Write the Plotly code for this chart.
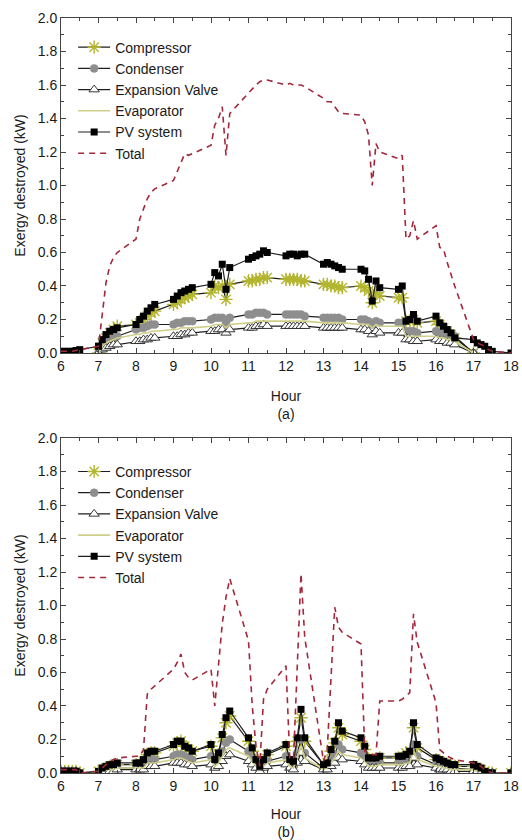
import plotly.graph_objects as go
from plotly.subplots import make_subplots

N = None

# ---------------- shared time stamps (hour of day) ----------------
hours = [
    6.0, 6.1, 6.2, 6.3, 6.4, 6.5,
    7.0, 7.1, 7.2, 7.3, 7.4, 7.5,
    8.0, 8.1, 8.2, 8.3, 8.4, 8.5,
    9.0, 9.1, 9.2, 9.3, 9.4, 9.5,
    10.0, 10.1, 10.2, 10.3, 10.4, 10.5,
    11.0, 11.1, 11.2, 11.3, 11.4, 11.5,
    12.0, 12.1, 12.2, 12.3, 12.4, 12.5,
    13.0, 13.1, 13.2, 13.3, 13.4, 13.5,
    14.0, 14.1, 14.2, 14.3, 14.4, 14.5,
    15.0, 15.1, 15.2, 15.3, 15.4, 15.5,
    16.0, 16.1, 16.2, 16.3, 16.4, 16.5,
    17.0, 17.1, 17.2, 17.3, 17.4, 17.5,
    18.0,
]

# ---------------- panel (a) ----------------
compressor_a = [
    N, N, N, N, N, N,
    0.00, 0.06, 0.09, 0.12, 0.14, 0.16,
    0.17, 0.18, 0.20, 0.22, 0.24, 0.25,
    0.29, 0.30, 0.32, 0.33, 0.34, 0.35,
    0.36, 0.40, 0.39, 0.40, 0.32, 0.41,
    0.43, 0.43, 0.44, 0.44, 0.45, 0.45,
    0.44, 0.44, 0.44, 0.44, 0.43, 0.43,
    0.41, 0.41, 0.40, 0.40, 0.39, 0.39,
    0.40, 0.39, 0.37, 0.30, 0.36, 0.34,
    0.33, 0.33, 0.19, 0.19, 0.20, 0.18,
    0.19, 0.17, 0.15, 0.13, 0.11, 0.09,
    0.00, N, N, N, N, N,
    N,
]
condenser_a = [
    N, N, N, N, N, N,
    0.00, 0.05, 0.07, 0.08, 0.09, 0.10,
    0.14, 0.15, 0.15, 0.16, 0.17, 0.17,
    0.17, 0.18, 0.18, 0.19, 0.19, 0.19,
    0.20, 0.21, 0.21, 0.21, 0.18, 0.21,
    0.23, 0.23, 0.24, 0.24, 0.24, 0.23,
    0.23, 0.23, 0.23, 0.23, 0.23, 0.22,
    0.21, 0.21, 0.21, 0.21, 0.21, 0.20,
    0.20, 0.20, 0.19, 0.17, 0.19, 0.18,
    0.18, 0.18, 0.13, 0.13, 0.13, 0.12,
    0.13, 0.12, 0.12, 0.11, 0.11, 0.10,
    0.00, N, N, N, N, N,
    N,
]
valve_a = [
    N, N, N, N, N, N,
    0.00, 0.02, 0.03, 0.04, 0.05, 0.05,
    0.07, 0.07, 0.08, 0.08, 0.09, 0.09,
    0.10, 0.10, 0.11, 0.11, 0.12, 0.12,
    0.13, 0.13, 0.14, 0.14, 0.12, 0.14,
    0.15, 0.15, 0.16, 0.16, 0.17, 0.16,
    0.16, 0.16, 0.16, 0.16, 0.16, 0.16,
    0.15, 0.15, 0.15, 0.15, 0.15, 0.15,
    0.14, 0.14, 0.13, 0.11, 0.13, 0.12,
    0.12, 0.12, 0.08, 0.08, 0.07, 0.07,
    0.08, 0.07, 0.07, 0.06, 0.06, 0.05,
    0.00, N, N, N, N, N,
    N,
]
evaporator_a = [
    N, N, N, N, N, N,
    0.00, 0.04, 0.06, 0.07, 0.08, 0.09,
    0.11, 0.11, 0.12, 0.12, 0.13, 0.13,
    0.14, 0.14, 0.15, 0.15, 0.15, 0.15,
    0.16, 0.17, 0.17, 0.17, 0.15, 0.17,
    0.18, 0.18, 0.19, 0.19, 0.19, 0.19,
    0.19, 0.19, 0.19, 0.19, 0.19, 0.19,
    0.18, 0.18, 0.18, 0.18, 0.18, 0.18,
    0.17, 0.17, 0.17, 0.15, 0.17, 0.16,
    0.16, 0.16, 0.10, 0.10, 0.10, 0.10,
    0.10, 0.09, 0.09, 0.08, 0.08, 0.07,
    0.00, N, N, N, N, N,
    N,
]
pv_a = [
    0.01, 0.01, 0.01, 0.01, 0.015, 0.02,
    0.04, 0.08, 0.11, 0.13, 0.14, 0.15,
    0.17, 0.20, 0.22, 0.25, 0.27, 0.29,
    0.32, 0.34, 0.36, 0.37, 0.38, 0.39,
    0.41, 0.48, 0.46, 0.53, 0.38, 0.51,
    0.56, 0.57, 0.58, 0.59, 0.61, 0.60,
    0.58, 0.59, 0.59, 0.58, 0.59, 0.59,
    0.53, 0.54, 0.53, 0.52, 0.51, 0.50,
    0.50, 0.49, 0.44, 0.31, 0.43, 0.39,
    0.38, 0.40, 0.19, 0.20, 0.23, 0.19,
    0.22, 0.18, 0.16, 0.14, 0.12, 0.09,
    0.08, 0.06, 0.05, 0.04, 0.02, 0.01,
    0.00,
]
total_a = [
    0.01, 0.01, 0.01, 0.01, 0.015, 0.02,
    0.04, 0.25, 0.42, 0.52, 0.57, 0.60,
    0.68, 0.80, 0.86, 0.92, 0.96, 0.98,
    1.03, 1.08, 1.14, 1.19, 1.18, 1.19,
    1.24, 1.36, 1.40, 1.47, 1.18, 1.43,
    1.55, 1.58, 1.60, 1.62, 1.63, 1.63,
    1.60, 1.61, 1.60, 1.60, 1.60, 1.59,
    1.52, 1.50, 1.50, 1.47, 1.44, 1.43,
    1.42, 1.38, 1.30, 1.00, 1.25, 1.20,
    1.16, 1.18, 0.68, 0.70, 0.79, 0.68,
    0.76, 0.63, 0.62, 0.54, 0.47, 0.40,
    0.08, 0.06, 0.05, 0.04, 0.02, 0.01,
    0.00,
]

# ---------------- panel (b) ----------------
compressor_b = [
    0.01, 0.01, 0.01, 0.01, 0.01, 0.00,
    0.01, 0.02, 0.03, 0.04, 0.04, 0.05,
    0.05, 0.05, 0.07, 0.11, 0.12, 0.12,
    0.16, 0.18, 0.19, 0.16, 0.14, 0.13,
    0.16, 0.08, 0.11, 0.21, 0.30, 0.34,
    0.19, 0.13, 0.07, 0.04, 0.07, 0.11,
    0.16, 0.07, 0.06, 0.19, 0.33, 0.19,
    0.05, 0.06, 0.13, 0.18, 0.27, 0.23,
    0.19, 0.14, 0.08, 0.08, 0.08, 0.09,
    0.09, 0.09, 0.12, 0.13, 0.27, 0.15,
    0.08, 0.07, 0.06, 0.05, 0.05, 0.04,
    0.04, 0.03, 0.02, 0.01, 0.00, 0.00,
    0.00,
]
condenser_b = [
    0.01, 0.01, 0.01, 0.01, 0.01, 0.00,
    0.00, 0.01, 0.02, 0.02, 0.03, 0.03,
    0.03, 0.03, 0.04, 0.07, 0.08, 0.08,
    0.10, 0.11, 0.11, 0.10, 0.09, 0.08,
    0.10, 0.05, 0.07, 0.13, 0.18, 0.20,
    0.13, 0.09, 0.05, 0.02, 0.05, 0.07,
    0.10, 0.05, 0.04, 0.12, 0.20, 0.12,
    0.03, 0.04, 0.08, 0.11, 0.17, 0.14,
    0.12, 0.09, 0.05, 0.05, 0.05, 0.06,
    0.06, 0.06, 0.07, 0.08, 0.17, 0.10,
    0.05, 0.04, 0.04, 0.03, 0.03, 0.03,
    0.02, 0.02, 0.01, 0.00, 0.00, 0.00,
    0.00,
]
valve_b = [
    0.01, 0.01, 0.01, 0.01, 0.01, 0.00,
    0.00, 0.01, 0.01, 0.01, 0.01, 0.02,
    0.02, 0.02, 0.02, 0.04, 0.04, 0.04,
    0.06, 0.06, 0.06, 0.05, 0.05, 0.04,
    0.05, 0.03, 0.04, 0.07, 0.10, 0.11,
    0.07, 0.05, 0.03, 0.01, 0.03, 0.04,
    0.05, 0.03, 0.02, 0.06, 0.12, 0.07,
    0.02, 0.02, 0.04, 0.06, 0.09, 0.08,
    0.07, 0.05, 0.03, 0.03, 0.03, 0.03,
    0.03, 0.03, 0.04, 0.04, 0.09, 0.05,
    0.03, 0.02, 0.02, 0.02, 0.01, 0.01,
    0.01, 0.01, 0.00, 0.00, 0.00, 0.00,
    0.00,
]
evaporator_b = [
    0.01, 0.01, 0.01, 0.01, 0.01, 0.00,
    0.00, 0.01, 0.02, 0.02, 0.02, 0.03,
    0.03, 0.03, 0.03, 0.06, 0.06, 0.06,
    0.08, 0.09, 0.09, 0.08, 0.07, 0.06,
    0.08, 0.04, 0.06, 0.10, 0.14, 0.15,
    0.10, 0.07, 0.04, 0.02, 0.04, 0.06,
    0.08, 0.04, 0.03, 0.09, 0.16, 0.09,
    0.02, 0.03, 0.06, 0.09, 0.13, 0.11,
    0.09, 0.07, 0.04, 0.04, 0.04, 0.05,
    0.05, 0.05, 0.06, 0.06, 0.13, 0.08,
    0.04, 0.04, 0.03, 0.03, 0.02, 0.02,
    0.02, 0.01, 0.01, 0.00, 0.00, 0.00,
    0.00,
]
pv_b = [
    0.01, 0.01, 0.01, 0.01, 0.01, 0.00,
    0.01, 0.03, 0.04, 0.05, 0.05, 0.06,
    0.06, 0.06, 0.08, 0.12, 0.13, 0.13,
    0.17, 0.19, 0.19, 0.16, 0.15, 0.13,
    0.17, 0.08, 0.12, 0.23, 0.33, 0.37,
    0.21, 0.15, 0.08, 0.04, 0.08, 0.12,
    0.17, 0.08, 0.07, 0.21, 0.38, 0.21,
    0.05, 0.06, 0.14, 0.19, 0.30, 0.25,
    0.21, 0.16, 0.09, 0.09, 0.09, 0.10,
    0.10, 0.10, 0.11, 0.13, 0.30, 0.17,
    0.09, 0.08, 0.07, 0.06, 0.05, 0.05,
    0.05, 0.04, 0.03, 0.01, 0.00, 0.00,
    0.00,
]
total_b = [
    0.02, 0.02, 0.02, 0.02, 0.02, 0.00,
    0.01, 0.03, 0.05, 0.07, 0.08, 0.09,
    0.10, 0.10, 0.14, 0.47, 0.50, 0.52,
    0.62, 0.66, 0.71, 0.60, 0.57, 0.555,
    0.62, 0.40, 0.65, 0.89, 1.05, 1.16,
    0.79, 0.40, 0.16, 0.04, 0.44, 0.50,
    0.64, 0.09, 0.08, 0.69, 1.19, 0.81,
    0.07, 0.14, 0.60, 0.99, 0.87, 0.84,
    0.77, 0.13, 0.12, 0.11, 0.11, 0.43,
    0.43, 0.44, 0.46, 0.48, 0.95, 0.78,
    0.42, 0.14, 0.12, 0.10, 0.09, 0.08,
    0.06, 0.05, 0.04, 0.02, 0.01, 0.00,
    0.00,
]

series_names = ["Compressor", "Condenser", "Expansion Valve", "Evaporator", "PV system", "Total"]
panel_a = [compressor_a, condenser_a, valve_a, evaporator_a, pv_a, total_a]
panel_b = [compressor_b, condenser_b, valve_b, evaporator_b, pv_b, total_b]
panel_labels = ["(a)", "(b)"]
x_ticks = [6, 7, 8, 9, 10, 11, 12, 13, 14, 15, 16, 17, 18]
y_ticks = [0.0, 0.2, 0.4, 0.6, 0.8, 1.0, 1.2, 1.4, 1.6, 1.8, 2.0]

# ---------------- styles ----------------
LINE_BLACK = "#1e1e1e"
styles = [
    dict(mode="lines+markers", line=dict(color=LINE_BLACK, width=1.2),
         marker=dict(symbol="asterisk-open", size=11, color="#b3b52e",
                     line=dict(color="#b3b52e", width=1.4))),
    dict(mode="lines+markers", line=dict(color=LINE_BLACK, width=1.2),
         marker=dict(symbol="circle", size=8, color="#8e8e8e",
                     line=dict(color="#8e8e8e", width=0.5))),
    dict(mode="lines+markers", line=dict(color=LINE_BLACK, width=1.2),
         marker=dict(symbol="triangle-up", size=9, color="white",
                     line=dict(color="#222222", width=0.9))),
    dict(mode="lines", line=dict(color="#cfcf8a", width=1.6)),
    dict(mode="lines+markers", line=dict(color=LINE_BLACK, width=1.2),
         marker=dict(symbol="square", size=7, color="#000000",
                     line=dict(color="#000000", width=0))),
    dict(mode="lines", line=dict(color="#a3283c", width=1.6, dash="6px,5px")),
]

FONT = "Liberation Sans, Arial, sans-serif"
TXT = "#1a1a1a"

fig = make_subplots(rows=2, cols=1, vertical_spacing=0.1126)

for row, (data, leg) in enumerate([(panel_a, "legend"), (panel_b, "legend2")], start=1):
    for name, vals, st in zip(series_names, data, styles):
        fig.add_trace(
            go.Scatter(x=hours, y=vals, name=name, legend=leg,
                       connectgaps=False, **st),
            row=row, col=1,
        )

axis_common = dict(
    showline=True, linecolor="#444444", linewidth=1, mirror="ticks",
    ticks="inside", ticklen=5, tickwidth=1, tickcolor="#444444",
    showgrid=False, zeroline=False, automargin=False,
    tickfont=dict(family=FONT, size=14, color=TXT),
)
for row in (1, 2):
    fig.update_xaxes(
        range=[6, 18], tickvals=x_ticks,
        minor=dict(ticks="inside", ticklen=3, dtick=0.5, tick0=6, tickcolor="#444444"),
        title=dict(text="Hour<br>" + panel_labels[row - 1], standoff=18,
                   font=dict(family=FONT, size=14, color=TXT)),
        row=row, col=1, **axis_common,
    )
    fig.update_yaxes(
        range=[0, 2.0], tickvals=y_ticks, tickformat=".1f",
        minor=dict(ticks="inside", ticklen=3, dtick=0.1, tick0=0, tickcolor="#444444"),
        title=dict(text="Exergy destroyed (kW)", standoff=8,
                   font=dict(family=FONT, size=14, color=TXT)),
        row=row, col=1, **axis_common,
    )

legend_common = dict(
    bgcolor="rgba(0,0,0,0)", borderwidth=0, tracegroupgap=0,
    font=dict(family=FONT, size=14, color=TXT),
    xanchor="left", yanchor="top", itemwidth=32,
)

fig.update_layout(
    width=522, height=840,
    margin=dict(l=61, r=11, t=18, b=67, autoexpand=False),
    paper_bgcolor="white", plot_bgcolor="white",
    font=dict(family=FONT, size=14, color=TXT),
    legend=dict(x=0.027, y=0.982, **legend_common),
    legend2=dict(x=0.027, y=0.420, **legend_common),
    showlegend=True,
)

fig.write_html("out.html")
